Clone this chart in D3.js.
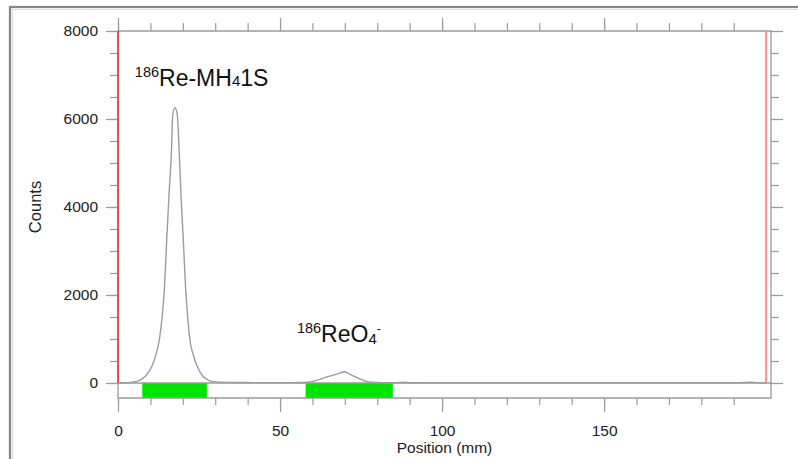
<!DOCTYPE html>
<html>
<head>
<meta charset="utf-8">
<script src="https://cdn.jsdelivr.net/npm/d3@7"></script>
<style>
  body { margin: 0; background: #fff; }
  svg { display: block; font-family: Arial, "Liberation Sans", sans-serif; }
</style>
</head>
<body>
<div id="chart"></div>
<script>
// radio-TLC scan, position (mm) vs counts
var positionMm = [0, 2, 4, 5.5, 6.8, 8.5, 10.4, 11.7, 12.75, 13.6, 14.29, 15.03, 15.74, 16.57, 16.88, 17.6,
  18.3, 18.8, 19.44, 20.15, 20.9, 21.5, 22.2, 23.3, 24.5, 26.0, 27.8, 30, 33, 40, 50, 56, 58.6, 60.5,
  62.3, 64.5, 66.5, 68.3, 69.8, 71.2, 72.6, 74.8, 76.8, 79.8, 84, 87, 88.5, 90, 100, 150, 190, 193,
  195, 197, 200];
var counts = [0, 4, 15, 35, 68, 160, 370, 640, 977, 1500, 2114, 3250, 4273, 5409, 6091, 6257,
  6091, 5409, 4273, 3250, 2114, 1500, 977, 620, 370, 170, 68, 25, 14, 10, 8, 10, 18, 45,
  84, 140, 180, 220, 257, 215, 160, 90, 30, 10, 6, 10, 16, 5, 2, 2, 3, 10,
  16, 8, 0];

var regionStart = [7.5, 57.9];
var regionEnd = [27.4, 84.8];

var yTicksMajor = [0, 2000, 4000, 6000, 8000];
var xTicksMajor = [0, 50, 100, 150];

var chartDiv = document.getElementById('chart');
var width = 798, height = 459;
var svg = d3.select(chartDiv).append('svg')
  .attr('width', width)
  .attr('height', height);

var plot = { left: 118, right: 771, top: 31, bottom: 383 };
var stripH = 15;

var x = d3.scaleLinear().domain([0, 201.5]).range([plot.left, plot.right]);
var y = d3.scaleLinear().domain([0, 8000]).range([plot.bottom, plot.top]);

var xMinor = d3.range(0, 200, 10);
var yMinor = d3.range(0, 8001, 500);

// outer frame
svg.append('rect')
  .attr('x', 10).attr('y', 7)
  .attr('width', 820).attr('height', 480)
  .attr('fill', 'none')
  .attr('stroke', '#858585')
  .attr('stroke-width', 2.2);
svg.append('rect')
  .attr('x', 12.5).attr('y', 9.5)
  .attr('width', 820).attr('height', 480)
  .attr('fill', 'none')
  .attr('stroke', '#dcdcdc')
  .attr('stroke-width', 1);

var axisColor = '#9a9a9a';
function styleAxis(g) {
  g.select('.domain').remove();
  g.selectAll('.tick line').attr('stroke', axisColor).attr('stroke-width', 1.2);
  g.selectAll('.tick text')
    .attr('fill', '#222')
    .style('font-size', '15.5px');
}

// left axis
svg.append('g')
  .attr('transform', 'translate(' + plot.left + ',0)')
  .call(d3.axisLeft(y).tickValues(yMinor).tickSize(8).tickFormat(''))
  .call(styleAxis);
svg.append('g')
  .attr('transform', 'translate(' + plot.left + ',0)')
  .call(d3.axisLeft(y).tickValues(yTicksMajor).tickSize(12).tickPadding(8).tickFormat(d3.format('d')))
  .call(styleAxis);

// right axis
svg.append('g')
  .attr('transform', 'translate(' + plot.right + ',0)')
  .call(d3.axisRight(y).tickValues(yMinor).tickSize(8).tickFormat(''))
  .call(styleAxis);
svg.append('g')
  .attr('transform', 'translate(' + plot.right + ',0)')
  .call(d3.axisRight(y).tickValues(yTicksMajor).tickSize(12).tickFormat(''))
  .call(styleAxis);

// top axis
svg.append('g')
  .attr('transform', 'translate(0,' + plot.top + ')')
  .call(d3.axisTop(x).tickValues(xMinor).tickSize(8).tickFormat(''))
  .call(styleAxis);
svg.append('g')
  .attr('transform', 'translate(0,' + plot.top + ')')
  .call(d3.axisTop(x).tickValues(xTicksMajor).tickSize(13).tickFormat(''))
  .call(styleAxis);

// bottom axis under the region strip
var stripBottom = plot.bottom + stripH;
svg.append('g')
  .attr('transform', 'translate(0,' + stripBottom + ')')
  .call(d3.axisBottom(x).tickValues(xMinor).tickSize(7).tickFormat(''))
  .call(styleAxis);
svg.append('g')
  .attr('transform', 'translate(0,' + stripBottom + ')')
  .call(d3.axisBottom(x).tickValues(xTicksMajor).tickSize(14).tickPadding(13).tickFormat(d3.format('d')))
  .call(styleAxis);

// region strip (green integration regions)
svg.selectAll('.region')
  .data(regionStart)
  .enter()
  .append('rect')
  .attr('class', 'region')
  .attr('x', function(d) { return x(d); })
  .attr('y', plot.bottom)
  .attr('width', function(d, i) { return x(regionEnd[i]) - x(d); })
  .attr('height', stripH)
  .attr('fill', '#00e400');

// frame lines
var frame = svg.append('g')
  .attr('stroke', axisColor)
  .attr('stroke-width', 1.3)
  .attr('fill', 'none');
frame.append('path')
  .attr('d', 'M' + plot.left + ',' + plot.top + 'H' + plot.right + 'V' + stripBottom +
    'H' + plot.left + 'Z');
frame.append('line')
  .attr('x1', plot.left).attr('x2', plot.right)
  .attr('y1', y(0)).attr('y2', y(0));

// origin / front markers
svg.append('line')
  .attr('x1', x(0)).attr('x2', x(0))
  .attr('y1', y(8000)).attr('y2', y(0))
  .attr('stroke', '#f44a4a')
  .attr('stroke-width', 2);
svg.append('line')
  .attr('x1', x(200)).attr('x2', x(200))
  .attr('y1', y(8000)).attr('y2', y(0))
  .attr('stroke', '#ff8a8a')
  .attr('stroke-width', 2);

// scan trace
var line = d3.line()
  .x(function(d, i) { return x(positionMm[i]); })
  .y(function(d) { return y(d); })
  .curve(d3.curveMonotoneX);

svg.append('path')
  .datum(counts)
  .attr('fill', 'none')
  .attr('stroke', '#9c9c9c')
  .attr('stroke-width', 1.4)
  .attr('stroke-linejoin', 'round')
  .attr('d', line);

// axis titles
svg.append('text')
  .attr('transform', 'translate(41,' + (y(4000)) + ') rotate(-90)')
  .attr('text-anchor', 'middle')
  .attr('fill', '#222')
  .style('font-size', '16.5px')
  .text('Counts');

svg.append('text')
  .attr('x', (plot.left + plot.right) / 2)
  .attr('y', 453)
  .attr('text-anchor', 'middle')
  .attr('fill', '#222')
  .style('font-size', '15.5px')
  .text('Position (mm)');

// peak labels
var lab1 = svg.append('text')
  .attr('x', x(5.2))
  .attr('y', y(6750))
  .attr('fill', '#111');
lab1.append('tspan').attr('dy', -9).style('font-size', '14.5px').text('186');
lab1.append('tspan').attr('dy', 9).style('font-size', '23px').text('Re-MH');
lab1.append('tspan').style('font-size', '15px').text('4');
lab1.append('tspan').style('font-size', '23px').text('1S');

var lab2 = svg.append('text')
  .attr('x', x(55.2))
  .attr('y', y(930))
  .attr('fill', '#111');
lab2.append('tspan').attr('dy', -9).style('font-size', '14.5px').text('186');
lab2.append('tspan').attr('dy', 9).style('font-size', '23px').text('ReO');
lab2.append('tspan').attr('dy', 2).style('font-size', '15px').text('4');
lab2.append('tspan').attr('dy', -11).style('font-size', '12px').text('-');
</script>
</body>
</html>
